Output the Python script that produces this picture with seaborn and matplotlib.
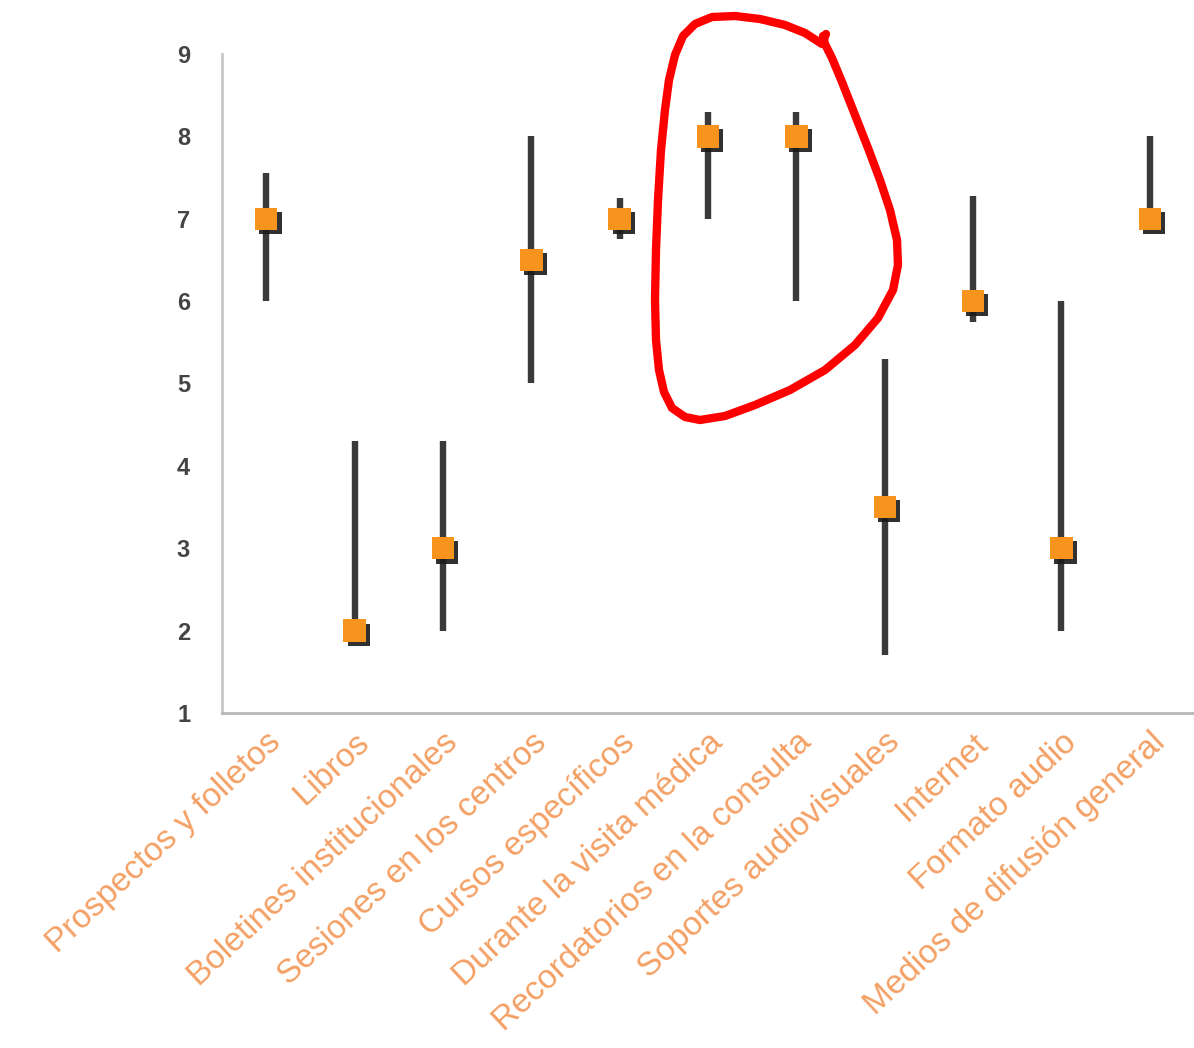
import numpy as np
import pandas as pd
import matplotlib
matplotlib.use("Agg")
import matplotlib.pyplot as plt
import matplotlib.patheffects as pe
from matplotlib.lines import Line2D
import seaborn as sns

categories = ["Prospectos y folletos", "Libros", "Boletines institucionales",
              "Sesiones en los centros", "Cursos específicos",
              "Durante la visita médica", "Recordatorios en la consulta",
              "Soportes audiovisuales", "Internet", "Formato audio",
              "Medios de difusión general"]
median = [7, 2, 3, 6.5, 7, 8, 8, 3.5, 6, 3, 7]
low = [6, 2, 2, 5, 6.75, 7, 6, 1.7, 5.75, 2, 7]
high = [7.55, 4.3, 4.3, 8, 7.25, 8.3, 8.3, 5.3, 7.27, 6, 8]

df = pd.DataFrame({"categoria": categories, "mediana": median,
                   "min": low, "max": high})

sns.set_style("white")
plt.rcParams["font.family"] = ["Liberation Sans", "DejaVu Sans"]

fig = plt.figure(figsize=(11.94, 10.48), dpi=100)
ax = fig.add_axes([0.186, 0.3197, 0.814, 0.6288])

# rango (min-max) de cada medio
ax.vlines(x=np.arange(len(df)), ymin=df["min"], ymax=df["max"],
          color="#3a3a3a", linewidth=4.6, zorder=2)

# mediana: cuadrado naranja con sombra
sns.scatterplot(data=df, x="categoria", y="mediana", marker="s", s=260,
                color="#f7941d", edgecolor="none", ax=ax, zorder=3, legend=False)
for coll in ax.collections[1:]:
    coll.set_path_effects([pe.SimplePatchShadow(offset=(3, -3), shadow_rgbFace="#1a1a1a", alpha=0.9),
                           pe.Normal()])

ax.set_xlim(-0.5, len(df) - 0.5)
ax.set_ylim(1, 9)
ax.set_yticks(range(1, 10))
ax.set_xlabel("")
ax.set_ylabel("")

ax.set_xticks(np.arange(len(df)))
ax.set_xticklabels(categories, rotation=43, ha="right", va="top",
                   rotation_mode="anchor", color="#f4a064", fontsize=24)
ax.tick_params(axis="x", which="major", length=0, pad=10)
ax.set_xticks(np.arange(len(df) + 1) - 0.5, minor=True)
ax.tick_params(axis="x", which="minor", length=12, direction="inout",
               color="#b8b8b8", width=1.5)
ax.tick_params(axis="y", length=14, direction="inout", color="#c8c8c8",
               width=1.5, labelsize=17, labelcolor="#444444", pad=16)
for lbl in ax.get_yticklabels():
    lbl.set_fontweight("bold")

for side in ["top", "right"]:
    ax.spines[side].set_visible(False)
ax.spines["left"].set_color("#c8c8c8")
ax.spines["bottom"].set_color("#b8b8b8")
ax.spines["left"].set_linewidth(2)
ax.spines["bottom"].set_linewidth(2)

# marca roja a mano alzada alrededor de dos medios (coordenadas en pixeles)
loop = [(826, 34), (822, 44), (805, 33), (785, 25), (760, 19), (735, 16), (712, 17),
        (695, 24), (683, 36), (675, 55), (669, 80), (665, 110), (661, 150), (658, 200),
        (656, 250), (655, 300), (656, 340), (659, 370), (664, 392), (672, 408),
        (685, 417), (700, 420), (725, 416), (755, 405), (790, 390), (825, 370),
        (855, 345), (878, 318), (893, 290), (898, 265), (897, 240), (890, 210),
        (880, 180), (868, 148), (855, 115), (842, 82), (832, 58), (825, 44), (823, 36)]
W, H = 1194, 1048
fig.add_artist(Line2D([p[0] / W for p in loop], [1 - p[1] / H for p in loop],
                      transform=fig.transFigure, color="#ff0000",
                      linewidth=6, solid_capstyle="round", solid_joinstyle="round"))

fig.savefig("out.png", dpi=100)
